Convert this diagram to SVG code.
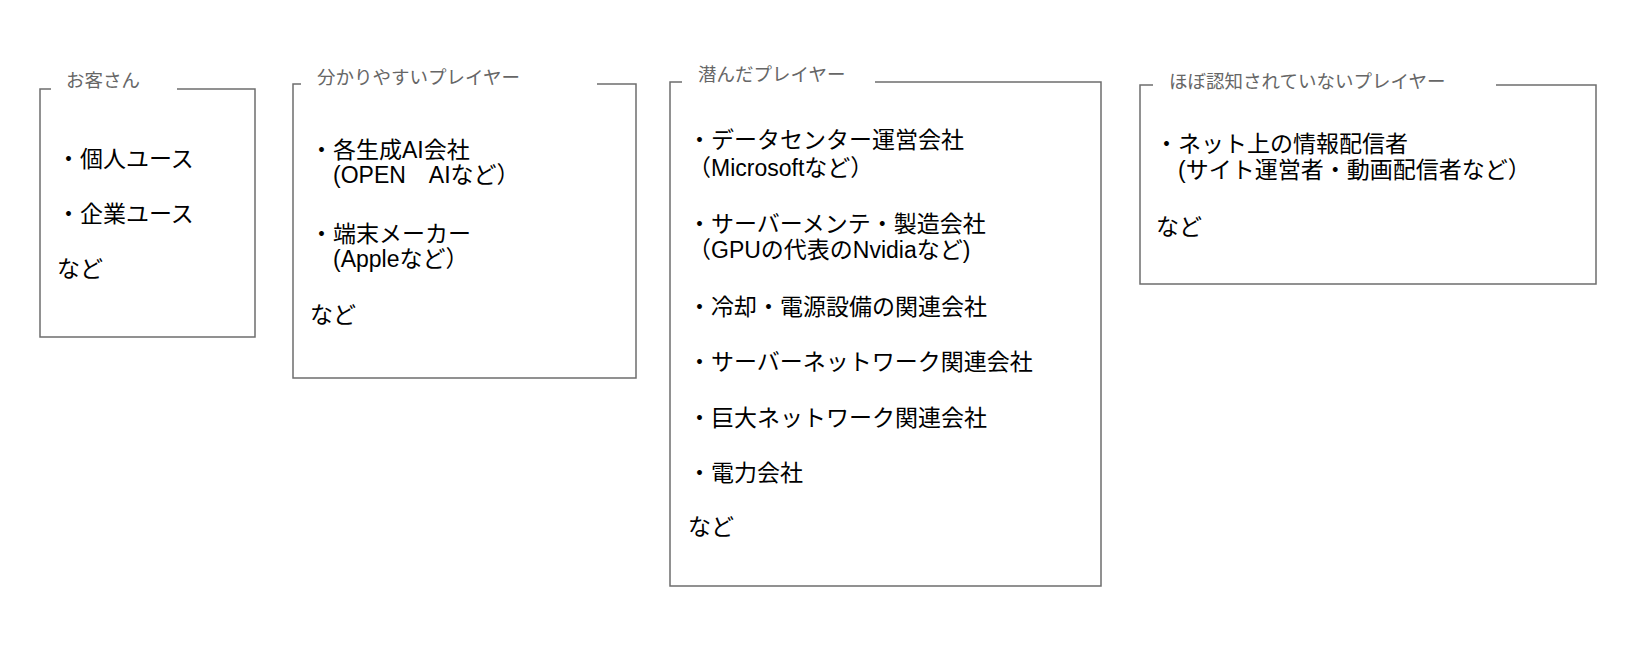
<svg xmlns="http://www.w3.org/2000/svg" width="1645" height="652" viewBox="0 0 1645 652">
<style>
.frame{fill:none;stroke:#6e6e6e;stroke-width:1.5}
.title{font-family:"Liberation Sans","Noto Sans CJK JP",sans-serif;font-size:18.5px;fill:#666666}
.body{font-family:"Liberation Sans","Noto Sans CJK JP",sans-serif;font-size:23px;fill:#000000}
</style>
<rect width="1645" height="652" fill="#ffffff"/>
<g id="node-customers">
<path class="frame" d="M51,89 H40 V337 H255 V89 H177"/>
<text class="title" x="66" y="87">お客さん</text>
<text class="body" x="57" y="167">・個人ユース</text>
<text class="body" x="57" y="222">・企業ユース</text>
<text class="body" x="57" y="277">など</text>
</g>
<g id="node-visible-players">
<path class="frame" d="M301,84 H293 V378 H636 V84 H597"/>
<text class="title" x="317" y="84">分かりやすいプレイヤー</text>
<text class="body" x="310" y="158">・各生成AI会社</text>
<text class="body" x="333" y="183">(OPEN　AIなど）</text>
<text class="body" x="310" y="242">・端末メーカー</text>
<text class="body" x="333" y="267">(Appleなど）</text>
<text class="body" x="310" y="323">など</text>
</g>
<g id="node-hidden-players">
<path class="frame" d="M682,82 H670 V586 H1101 V82 H875"/>
<text class="title" x="698" y="81">潜んだプレイヤー</text>
<text class="body" x="688" y="148">・データセンター運営会社</text>
<text class="body" x="688" y="176">（Microsoftなど）</text>
<text class="body" x="688" y="232">・サーバーメンテ・製造会社</text>
<text class="body" x="688" y="258">（GPUの代表のNvidiaなど)</text>
<text class="body" x="688" y="315">・冷却・電源設備の関連会社</text>
<text class="body" x="688" y="370">・サーバーネットワーク関連会社</text>
<text class="body" x="688" y="426">・巨大ネットワーク関連会社</text>
<text class="body" x="688" y="481">・電力会社</text>
<text class="body" x="688" y="535">など</text>
</g>
<g id="node-unknown-players">
<path class="frame" d="M1153,85 H1140 V284 H1596 V85 H1496"/>
<text class="title" x="1169" y="88">ほぼ認知されていないプレイヤー</text>
<text class="body" x="1155" y="152">・ネット上の情報配信者</text>
<text class="body" x="1178" y="178">(サイト運営者・動画配信者など）</text>
<text class="body" x="1156" y="235">など</text>
</g>
<g id="connectors"></g>
</svg>
